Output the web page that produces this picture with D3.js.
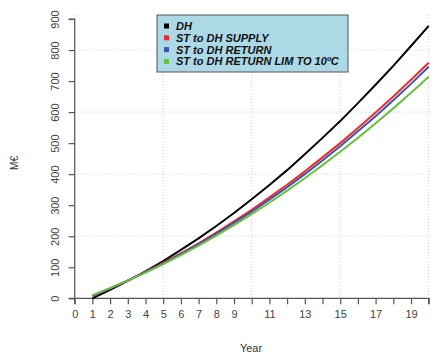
<!DOCTYPE html>
<html>
<head>
<meta charset="utf-8">
<script src="https://cdn.jsdelivr.net/npm/d3@7"></script>
<style>
  body { margin: 0; background: #fff; }
  svg text { font-family: "Liberation Sans", Arial, sans-serif; }
</style>
</head>
<body>
<div id="chart"></div>
<script>
var years = [1, 2, 3, 4, 5, 6, 7, 8, 9, 10, 11, 12, 13, 14, 15, 16, 17, 18, 19, 20];
var dh = [0, 27, 56, 87, 120, 156, 193, 233, 275, 319, 365, 413, 464, 517, 571, 629, 688, 749, 813, 878];
var stSupply = [8, 32, 58, 85, 114, 145, 177, 212, 248, 285, 325, 366, 409, 454, 500, 549, 599, 650, 704, 759];
var stReturn = [8, 32, 57, 84, 112, 142, 174, 208, 243, 279, 318, 358, 400, 444, 490, 538, 587, 638, 691, 746];
var stReturnLim = [10, 33, 57, 83, 110, 139, 170, 202, 236, 271, 308, 347, 387, 429, 472, 517, 564, 612, 662, 714];
var seriesNames = ["DH", "ST to DH SUPPLY", "ST to DH RETURN", "ST to DH RETURN LIM TO 10\u00baC"];
var seriesColors = ["#000000", "#ee2b2b", "#3a55b0", "#69c040"];
var yTicks = [0, 100, 200, 300, 400, 500, 600, 700, 800, 900];
var xTickLabels = [0, 1, 2, 3, 4, 5, 6, 7, 8, 9, 11, 13, 15, 17, 19];

var w = 439, h = 354;
var svg = d3.select("#chart").append("svg").attr("width", w).attr("height", h);

var x = d3.scaleLinear().domain([0, 20]).range([74.7, 428.7]);
var y = d3.scaleLinear().domain([0, 900]).range([298.3, 19]);

// grid
svg.selectAll(".gx").data([0, 5, 10, 15, 20]).enter().append("line")
    .attr("x1", function (d) { return x(d); }).attr("x2", function (d) { return x(d); })
    .attr("y1", 15).attr("y2", y(0))
    .attr("stroke", "#d0d0d0").attr("stroke-dasharray", "1,2");
svg.selectAll(".gy").data([0, 200, 400, 600, 800]).enter().append("line")
    .attr("x1", x(0)).attr("x2", 432)
    .attr("y1", function (d) { return y(d); }).attr("y2", function (d) { return y(d); })
    .attr("stroke", "#d0d0d0").attr("stroke-dasharray", "1,2");

// axes
var yAxis = svg.append("g").attr("transform", "translate(" + x(0) + ",0)")
    .call(d3.axisLeft(y).tickValues(yTicks).tickSize(6).tickFormat(d3.format("d")));
yAxis.selectAll("text").attr("transform", "rotate(-90)")
    .attr("x", 0).attr("y", -16)
    .attr("dy", 0).attr("text-anchor", "middle");

var xAxis = svg.append("g").attr("transform", "translate(0," + y(0) + ")")
    .call(d3.axisBottom(x).tickValues(d3.range(0, 21)).tickSize(6)
        .tickFormat(function (d) { return xTickLabels.indexOf(d) >= 0 ? d : ""; }));
xAxis.selectAll("text").attr("y", 12).attr("dy", "0.71em");

[yAxis, xAxis].forEach(function (g) {
    g.select(".domain").attr("stroke", "#555").attr("stroke-width", 1.2);
    g.selectAll(".tick line").attr("stroke", "#555").attr("stroke-width", 1.2);
    g.selectAll("text").attr("fill", "#444").attr("font-size", 11)
        .style("font-family", "'Liberation Sans', Arial, sans-serif");
});
yAxis.select(".domain").attr("d", "M-6," + y(900) + "H0V" + y(0) + "H-6");
xAxis.select(".domain").attr("d", "M" + x(0) + ",6V0H" + x(20) + "V6");

// lines
var allSeries = [dh, stSupply, stReturn, stReturnLim];
var line = d3.line().x(function (d, i) { return x(years[i]); }).y(function (d) { return y(d); });
svg.selectAll(".series").data(allSeries).enter().append("path")
    .attr("d", line)
    .attr("fill", "none")
    .attr("stroke", function (d, i) { return seriesColors[i]; })
    .attr("stroke-width", 2);

// axis titles
svg.append("text").attr("transform", "translate(18,163) rotate(-90)")
    .attr("text-anchor", "middle").attr("font-size", 10).attr("fill", "#333").text("M\u20ac");
svg.append("text").attr("x", 251).attr("y", 352)
    .attr("text-anchor", "middle").attr("font-size", 11).attr("fill", "#333").text("Year");

// legend
var lg = svg.append("g");
lg.append("rect").attr("x", 157).attr("y", 15).attr("width", 191).attr("height", 57)
    .attr("fill", "#add8e6").attr("stroke", "#555").attr("stroke-width", 1);
var rows = lg.selectAll(".row").data(seriesNames).enter().append("g")
    .attr("transform", function (d, i) { return "translate(0," + (26 + i * 11.8) + ")"; });
rows.append("rect").attr("x", 164).attr("y", -2.5).attr("width", 5).attr("height", 5)
    .attr("fill", function (d, i) { return seriesColors[i]; });
rows.append("text").attr("x", 176).attr("y", 4).attr("font-size", 11)
    .attr("font-weight", "bold").attr("font-style", "italic").attr("fill", "#111")
    .text(function (d) { return d; });
</script>
</body>
</html>
